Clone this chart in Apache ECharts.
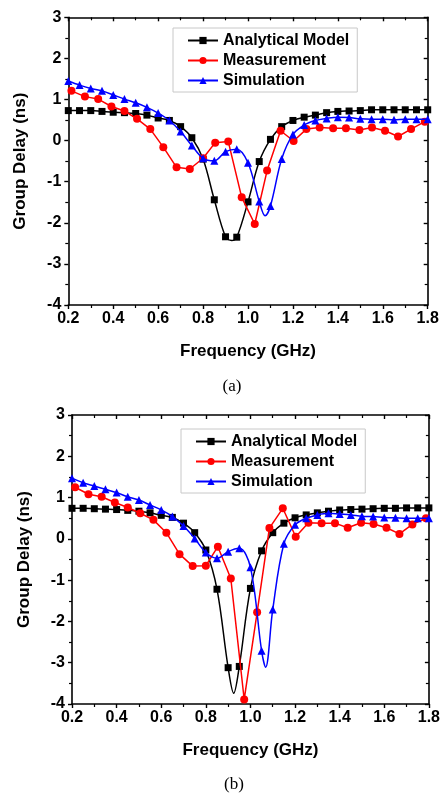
<!DOCTYPE html>
<html><head><meta charset="utf-8">
<script src="https://cdn.jsdelivr.net/npm/echarts@6/dist/echarts.min.js"></script>
<style>html,body{margin:0;padding:0;background:#fff}#c{width:443px;height:794px}</style>
</head><body><div id="c"></div>
<script>
// ---- data ----
const modelFreq = [0.2,0.25,0.3,0.35,0.4,0.45,0.5,0.55,0.6,0.65,0.7,0.75,0.8,0.85,0.9,0.95,1.0,1.05,1.1,1.15,1.2,1.25,1.3,1.35,1.4,1.45,1.5,1.55,1.6,1.65,1.7,1.75,1.8];
const measFreq = [0.214,0.274,0.333,0.392,0.45,0.506,0.565,0.623,0.682,0.741,0.8,0.854,0.912,0.972,1.03,1.085,1.145,1.203,1.26,1.319,1.379,1.436,1.496,1.552,1.61,1.668,1.726,1.787];
const xTicks = [0.2,0.4,0.6,0.8,1.0,1.2,1.4,1.6,1.8];
const yTicks = [-4,-3,-2,-1,0,1,2,3];

// (a)
const analyticalA = [0.73,0.73,0.73,0.71,0.69,0.68,0.66,0.62,0.55,0.49,0.34,0.07,-0.45,-1.44,-2.34,-2.35,-1.49,-0.51,0.03,0.34,0.49,0.57,0.62,0.68,0.71,0.72,0.73,0.75,0.75,0.75,0.75,0.75,0.75];
const analyticalA_dip = [[0.927,-2.43]];
const measurementA = [1.21,1.07,1.01,0.83,0.72,0.53,0.28,-0.16,-0.65,-0.69,-0.43,-0.05,-0.02,-1.38,-2.03,-0.73,0.24,-0.01,0.28,0.32,0.30,0.30,0.26,0.32,0.24,0.10,0.28,0.46];
const simulationA = [1.45,1.35,1.27,1.21,1.11,1.01,0.92,0.81,0.67,0.49,0.22,-0.12,-0.43,-0.49,-0.27,-0.21,-0.54,-1.48,-1.59,-0.45,0.15,0.38,0.49,0.54,0.57,0.56,0.53,0.52,0.52,0.51,0.52,0.52,0.52];
const simulationA_dip = [[1.076,-1.83]];

// (b)
const analyticalB = [0.74,0.74,0.73,0.72,0.71,0.69,0.67,0.63,0.57,0.52,0.38,0.15,-0.27,-1.22,-3.12,-3.09,-1.20,-0.29,0.15,0.38,0.51,0.58,0.63,0.67,0.70,0.71,0.72,0.73,0.74,0.74,0.75,0.75,0.75];
const analyticalB_dip = [[0.925,-3.74]];
const measurementB = [1.25,1.08,1.02,0.88,0.76,0.62,0.46,0.15,-0.37,-0.66,-0.65,-0.19,-0.96,-3.89,-1.78,0.26,0.74,0.05,0.39,0.38,0.38,0.27,0.39,0.36,0.27,0.12,0.35,0.50];
const simulationB = [1.47,1.36,1.28,1.20,1.12,1.02,0.94,0.82,0.70,0.54,0.31,0.01,-0.33,-0.47,-0.31,-0.23,-0.69,-2.71,-1.71,-0.12,0.34,0.50,0.58,0.62,0.60,0.58,0.55,0.54,0.52,0.51,0.50,0.50,0.50];
const simulationB_dip = [[1.068,-3.11]];

const seriesNames = ['Analytical Model','Measurement','Simulation'];
const panelLabels = ['(a)','(b)'];
const xTitle = 'Frequency (GHz)';
const yTitle = 'Group Delay (ns)';

// ---- build ----
const FONT = '"Liberation Sans", Arial, sans-serif';
function pts(freq, vals, extra){
  const d = freq.map((f,i)=>({value:[f, vals[i]]}));
  (extra||[]).forEach(p=>d.push({value:[p[0],p[1]], symbol:'none'}));
  d.sort((a,b)=>a.value[0]-b.value[0]);
  return d;
}
const grids = [
  {left:68.3, top:17.3, width:359.4, height:287.7},
  {left:72, top:415, width:359, height:289}
];
const xAxes = [], yAxes = [], series = [], legends = [];
const panels = [
  {a:analyticalA, ad:analyticalA_dip, m:measurementA, s:simulationA, sd:simulationA_dip},
  {a:analyticalB, ad:analyticalB_dip, m:measurementB, s:simulationB, sd:simulationB_dip}
];
const lineW = 1.5;
grids.forEach((g,gi)=>{
  const base = {min:xTicks[0], max:xTicks[xTicks.length-1], interval:0.2, gridIndex:gi, type:'value',
    axisLine:{show:true, onZero:false, lineStyle:{color:'#000', width:1.6}},
    splitLine:{show:false}};
  xAxes.push(Object.assign({}, base, {position:'bottom',
    name:xTitle, nameLocation:'middle', nameGap:38,
    nameTextStyle:{fontFamily:FONT, fontWeight:'bold', fontSize:17, color:'#000'},
    axisTick:{show:true, inside:false, length:4, lineStyle:{color:'#000', width:1.4}},
    minorTick:{show:true, splitNumber:2, length:3, lineStyle:{color:'#000', width:1.2}},
    axisLabel:{show:true, margin:6, fontFamily:FONT, fontWeight:'bold', fontSize:16, color:'#000',
      formatter:v=>v.toFixed(1)}}));
  xAxes.push(Object.assign({}, base, {position:'top',
    axisTick:{show:true, inside:true, length:4, lineStyle:{color:'#000', width:1.4}},
    minorTick:{show:true, splitNumber:2, length:3, lineStyle:{color:'#000', width:1.2}},
    axisLabel:{show:false}}));
  const ybase = {min:yTicks[0], max:yTicks[yTicks.length-1], interval:1, gridIndex:gi, type:'value',
    axisLine:{show:true, onZero:false, lineStyle:{color:'#000', width:1.6}},
    splitLine:{show:false}};
  yAxes.push(Object.assign({}, ybase, {position:'left',
    name:yTitle, nameLocation:'middle', nameGap:39,
    nameTextStyle:{fontFamily:FONT, fontWeight:'bold', fontSize:17, color:'#000'},
    axisTick:{show:true, inside:false, length:4, lineStyle:{color:'#000', width:1.4}},
    minorTick:{show:true, splitNumber:2, length:3, lineStyle:{color:'#000', width:1.2}},
    axisLabel:{show:true, margin:7, fontFamily:FONT, fontWeight:'bold', fontSize:16, color:'#000'}}));
  yAxes.push(Object.assign({}, ybase, {position:'right',
    axisTick:{show:true, inside:true, length:4, lineStyle:{color:'#000', width:1.4}},
    minorTick:{show:true, splitNumber:2, length:3, lineStyle:{color:'#000', width:1.2}},
    axisLabel:{show:false}}));
  const P = panels[gi];
  const xi = gi*2, yi = gi*2;
  series.push({name:seriesNames[0], type:'line', xAxisIndex:xi, yAxisIndex:yi,
    data:pts(modelFreq, P.a, P.ad), smooth:0.35, symbol:'rect', symbolSize:7,
    lineStyle:{color:'#000', width:lineW}, itemStyle:{color:'#000'}, z:3});
  series.push({name:seriesNames[1], type:'line', xAxisIndex:xi, yAxisIndex:yi,
    data:pts(measFreq, P.m), smooth:false, symbol:'circle', symbolSize:8,
    lineStyle:{color:'#f00', width:lineW}, itemStyle:{color:'#f00'}, z:4});
  series.push({name:seriesNames[2], type:'line', xAxisIndex:xi, yAxisIndex:yi,
    data:pts(modelFreq, P.s, P.sd), smooth:0.35, symbol:'triangle', symbolSize:8,
    lineStyle:{color:'#00f', width:lineW}, itemStyle:{color:'#00f'}, z:5});
});
legends.push({orient:'vertical', left:173, top:28});
legends.push({orient:'vertical', left:181, top:429});
legends.forEach(l=>Object.assign(l, {data:seriesNames, itemWidth:30, itemHeight:9, itemGap:3,
  borderColor:'#c8c8c8', borderWidth:1, padding:[4,8,3,14], backgroundColor:'#fff',
  textStyle:{fontFamily:FONT, fontWeight:'bold', fontSize:16, color:'#000', lineHeight:17}}));

const chart = echarts.init(document.getElementById('c'), null, {renderer:'canvas'});
chart.setOption({
  animation:false,
  backgroundColor:'#fff',
  grid:grids,
  xAxis:xAxes, yAxis:yAxes, series:series, legend:legends,
  graphic:[
    {type:'text', x:232, y:387, style:{text:panelLabels[0], font:'17px "Liberation Serif", "Times New Roman", serif', fill:'#000', align:'center', verticalAlign:'middle'}},
    {type:'text', x:234, y:785, style:{text:panelLabels[1], font:'17px "Liberation Serif", "Times New Roman", serif', fill:'#000', align:'center', verticalAlign:'middle'}}
  ]
});
</script></body></html>
